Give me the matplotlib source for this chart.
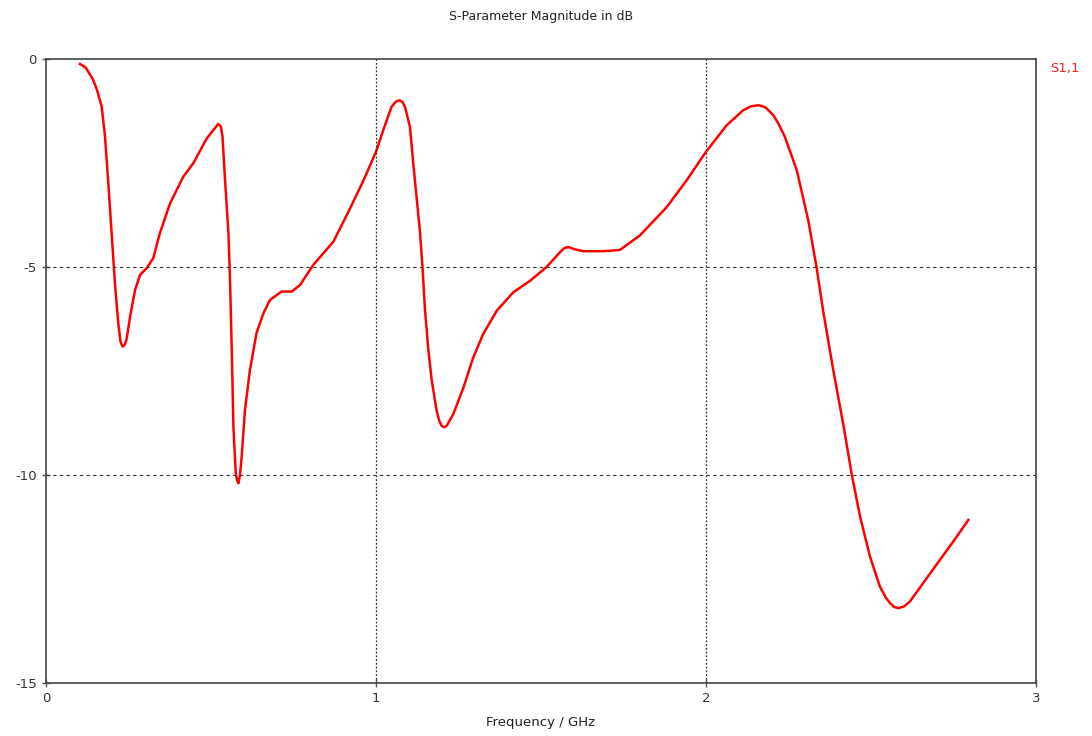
import matplotlib
matplotlib.use("Agg")
import matplotlib.pyplot as plt

# S1,1 magnitude
freq_ghz = [0.103, 0.120, 0.143, 0.155, 0.169, 0.179, 0.189, 0.199, 0.209, 0.219,
            0.226, 0.232, 0.238, 0.244, 0.255, 0.270, 0.285, 0.305, 0.325, 0.345,
            0.376, 0.416, 0.446, 0.487, 0.510, 0.522, 0.530, 0.535, 0.542, 0.553,
            0.558, 0.563, 0.568, 0.575, 0.579, 0.583, 0.588, 0.593, 0.603, 0.618,
            0.638, 0.659, 0.679, 0.714, 0.745, 0.770, 0.810, 0.871, 0.921, 0.962,
            1.000, 1.022, 1.047, 1.060, 1.071, 1.080, 1.088, 1.103, 1.113, 1.123,
            1.133, 1.141, 1.148, 1.158, 1.169, 1.184, 1.192, 1.199, 1.207, 1.214,
            1.234, 1.265, 1.295, 1.325, 1.366, 1.416, 1.467, 1.517, 1.558, 1.572,
            1.583, 1.600, 1.628, 1.689, 1.739, 1.800, 1.881, 1.941, 2.000, 2.063,
            2.113, 2.135, 2.159, 2.180, 2.204, 2.220, 2.239, 2.275, 2.310, 2.335,
            2.355, 2.386, 2.416, 2.442, 2.467, 2.497, 2.527, 2.545, 2.558, 2.570,
            2.583, 2.600, 2.618, 2.658, 2.709, 2.760, 2.795]
s11_db = [-0.12, -0.20, -0.50, -0.75, -1.15, -1.87, -2.99, -4.19, -5.39, -6.35,
          -6.80, -6.91, -6.88, -6.75, -6.19, -5.55, -5.19, -5.03, -4.79, -4.19,
          -3.47, -2.83, -2.51, -1.91, -1.68, -1.56, -1.62, -1.87, -2.83, -4.19,
          -5.39, -7.00, -8.84, -9.96, -10.12, -10.20, -10.00, -9.56, -8.44, -7.48,
          -6.59, -6.11, -5.79, -5.59, -5.59, -5.43, -4.95, -4.39, -3.60, -2.92,
          -2.23, -1.71, -1.15, -1.03, -0.99, -1.03, -1.15, -1.63, -2.51, -3.32,
          -4.12, -5.00, -5.97, -6.93, -7.73, -8.46, -8.70, -8.82, -8.85, -8.82,
          -8.54, -7.90, -7.17, -6.61, -6.05, -5.61, -5.33, -5.00, -4.64, -4.54,
          -4.52, -4.57, -4.62, -4.62, -4.59, -4.24, -3.56, -2.92, -2.23, -1.59,
          -1.23, -1.14, -1.11, -1.16, -1.35, -1.56, -1.87, -2.67, -3.88, -5.00,
          -6.05, -7.49, -8.78, -10.00, -11.00, -11.96, -12.68, -12.95, -13.08, -13.17,
          -13.20, -13.16, -13.04, -12.60, -12.04, -11.48, -11.08]

x_ticks = [0, 1, 2, 3]
y_ticks = [0, -5, -10, -15]

plt.rcParams['font.family'] = ['DejaVu Sans']
fig = plt.figure(figsize=(10.92, 7.36), dpi=100)
ax = fig.add_axes([0.0421, 0.072, 0.9066, 0.8478])

ax.plot(freq_ghz, s11_db, color='#ff0000', linewidth=1.8)

ax.set_xlim(0, 3)
ax.set_ylim(-15, 0)
ax.set_xticks(x_ticks)
ax.set_yticks(y_ticks)
ax.set_xticklabels([str(t) for t in x_ticks])
ax.set_yticklabels([str(t) for t in y_ticks])
ax.tick_params(direction='inout', length=6, width=1, colors='#555555',
               labelcolor='#333333', labelsize=9.5)

# grid: dotted verticals, dashed horizontals
for xv in [1, 2]:
    ax.axvline(xv, color='#333333', linestyle=(0, (1.5, 1.5)), linewidth=0.9)
for yv in [-5, -10]:
    ax.axhline(yv, color='#333333', linestyle=(0, (3, 3)), linewidth=0.8)

for sp in ax.spines.values():
    sp.set_color('#444444')
    sp.set_linewidth(1.2)

ax.set_title('S-Parameter Magnitude in dB', fontsize=9, color='#222222', pad=28)
ax.set_xlabel('Frequency / GHz', fontsize=9.5, color='#222222', labelpad=8)
ax.text(1.014, 0.985, 'S1,1', transform=ax.transAxes, color='#ff2020',
        fontsize=9.5, ha='left', va='center')

fig.savefig('out.png', dpi=100)
